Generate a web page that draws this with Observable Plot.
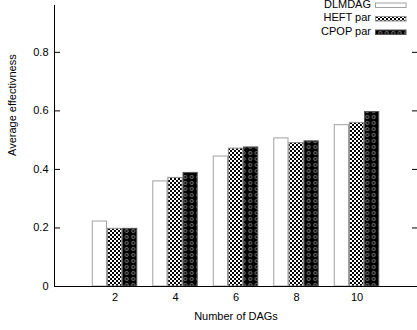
<!DOCTYPE html>
<html>
<head>
<meta charset="utf-8">
<script src="https://cdn.jsdelivr.net/npm/d3@7"></script>
<script src="https://cdn.jsdelivr.net/npm/@observablehq/plot@0.6"></script>
<style>
  html, body { margin: 0; padding: 0; background: #fff; }
</style>
</head>
<body>
<div id="chart"></div>
<script>
const categories = [2, 4, 6, 8, 10];
const seriesNames = ["DLMDAG", "HEFT par", "CPOP par"];
const dlmdag = [0.222, 0.359, 0.444, 0.506, 0.551];
const heftPar = [0.197, 0.371, 0.471, 0.490, 0.559];
const cpopPar = [0.197, 0.388, 0.475, 0.496, 0.596];
const yTicks = [0, 0.2, 0.4, 0.6, 0.8];
const xLabel = "Number of DAGs";
const yLabel = "Average effectivness";

const seriesValues = [dlmdag, heftPar, cpopPar];
const seriesFill = ["white", "url(#pat-heft)", "url(#pat-cpop)"];
const seriesStroke = ["#a0a0a0", "#909090", "#555555"];

const W = 417, H = 330;
const mL = 54, mR = 0, mT = 5, mB = 44;
const frameW = W - mL - mR;
const xDomain = [-1, categories.length];
const slot = 0.25, barW = 0.235;

const rows = [];
seriesValues.forEach((vals, s) => vals.forEach((v, i) => rows.push({s, i, cat: categories[i], value: v})));

const barMarks = seriesNames.map((name, s) =>
  Plot.rect(rows.filter(d => d.s === s), {
    x1: d => d.i + (d.s - 1) * slot - barW / 2,
    x2: d => d.i + (d.s - 1) * slot + barW / 2,
    y1: () => 0,
    y2: "value",
    fill: seriesFill[s],
    stroke: seriesStroke[s],
    strokeWidth: 1
  })
);

const svg = Plot.plot({
  width: W,
  height: H,
  marginLeft: mL,
  marginRight: mR,
  marginTop: mT,
  marginBottom: mB,
  style: {fontFamily: "'Liberation Sans', Arial, sans-serif", fontSize: "11px", background: "white", color: "#000"},
  x: {type: "linear", domain: xDomain},
  y: {domain: [0, 0.96]},
  marks: [
    ...barMarks,
    Plot.axisX(categories.map((c, i) => i), {tickSize: 0, tickPadding: 7, tickFormat: i => categories[i], label: null, fontSize: 11}),
    Plot.axisY(yTicks, {tickSize: 0, tickPadding: 6, tickFormat: d => d === 0 ? "0" : d3.format(".1f")(d), label: null, fontSize: 11}),
    Plot.tickY(yTicks, {y: d => d, insetRight: frameW - 6, stroke: "#000"}),
    Plot.tickY(yTicks, {y: d => d, insetLeft: frameW - 5, stroke: "#000"}),
    Plot.ruleX([xDomain[0]], {stroke: "#000", strokeWidth: 1}),
    Plot.ruleY([0], {stroke: "#000", strokeWidth: 1}),
    Plot.text([xLabel], {frameAnchor: "bottom", dy: 33, fontSize: 11, fill: "#000"}),
    Plot.text([yLabel], {frameAnchor: "left", dx: -42, dy: 10, rotate: -90, fontSize: 11, fill: "#000"})
  ]
});

// pattern definitions
const s = d3.select(svg);
const defs = s.insert("defs", ":first-child");
const p1 = defs.append("pattern").attr("id", "pat-heft").attr("patternUnits", "userSpaceOnUse")
  .attr("width", 4).attr("height", 4);
p1.append("rect").attr("width", 4).attr("height", 4).attr("fill", "white");
p1.append("rect").attr("x", 0).attr("y", 0).attr("width", 2).attr("height", 2).attr("fill", "black");
p1.append("rect").attr("x", 2).attr("y", 2).attr("width", 2).attr("height", 2).attr("fill", "black");
const p2 = defs.append("pattern").attr("id", "pat-cpop").attr("patternUnits", "userSpaceOnUse")
  .attr("width", 6.5).attr("height", 6);
p2.append("rect").attr("width", 6.5).attr("height", 6).attr("fill", "black");
p2.append("circle").attr("cx", 3.25).attr("cy", 3).attr("r", 1.6).attr("fill", "none")
  .attr("stroke", "#9a9a9a").attr("stroke-width", 0.8);

// legend (key) in the top-right corner
const legend = s.append("g").attr("font-family", "'Liberation Sans', Arial, sans-serif").attr("font-size", 11);
seriesNames.forEach((name, k) => {
  const base = 7.5 + k * 13.5;
  legend.append("text").attr("x", 371).attr("y", base).attr("text-anchor", "end").attr("fill", "#000").text(name);
  legend.append("rect").attr("x", 375.5).attr("y", base - 4.5).attr("width", 30.5).attr("height", 4.5)
    .attr("fill", seriesFill[k]).attr("stroke", seriesStroke[k]).attr("stroke-width", 1);
});

document.getElementById("chart").appendChild(svg);
</script>
</body>
</html>
